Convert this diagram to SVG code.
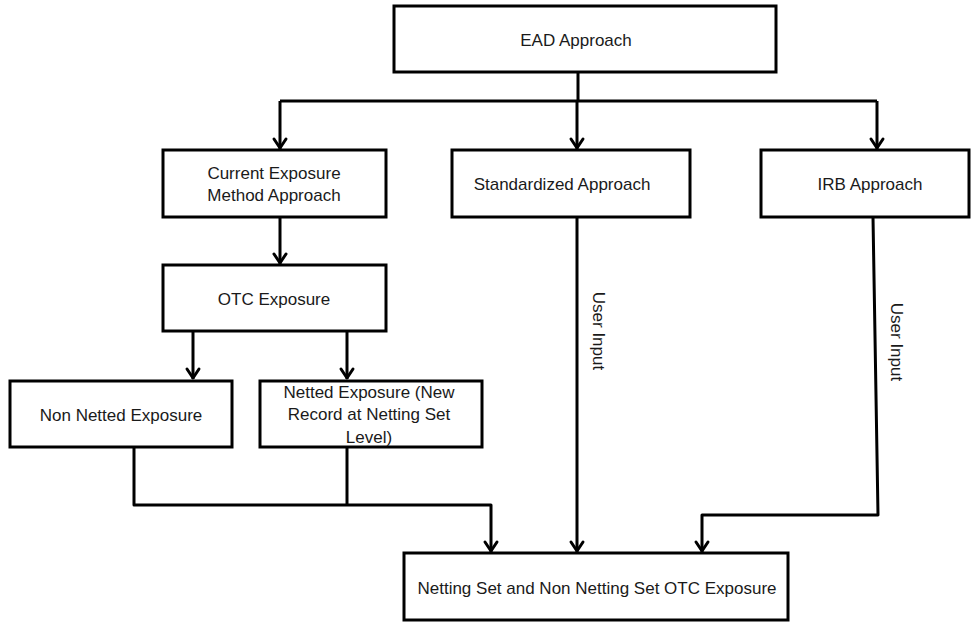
<svg xmlns="http://www.w3.org/2000/svg" width="971" height="622" viewBox="0 0 971 622">
<style>
.box{fill:#fff;stroke:#000;stroke-width:3}
.t{font-family:"Liberation Sans",Arial,sans-serif;font-size:17px;fill:#1a1a1a;text-anchor:middle;dominant-baseline:central}
.c{fill:none;stroke:#000;stroke-width:3;stroke-linejoin:round}
</style>
<defs>
<marker id="ah" viewBox="0 0 20 20" refX="18" refY="10" markerWidth="20" markerHeight="20" markerUnits="userSpaceOnUse" orient="auto">
<path d="M8 4 L17 10 L8 16" fill="none" stroke="#000" stroke-width="3" stroke-linecap="round" stroke-linejoin="round"/>
</marker>
</defs>
<rect width="971" height="622" fill="#fff"/>
<g id="connectors">
<path class="c" d="M578 72 V101"/>
<path class="c" d="M280 101 H877"/>
<path class="c" d="M280 101 V149" marker-end="url(#ah)"/>
<path class="c" d="M577 101 V149" marker-end="url(#ah)"/>
<path class="c" d="M877 101 V149" marker-end="url(#ah)"/>
<path class="c" d="M280 217 V264" marker-end="url(#ah)"/>
<path class="c" d="M193 331 V379" marker-end="url(#ah)"/>
<path class="c" d="M347 331 V379" marker-end="url(#ah)"/>
<path class="c" d="M134 447 V505 H491 V552" marker-end="url(#ah)"/>
<path class="c" d="M347 447 V505"/>
<path class="c" d="M577 217 V552" marker-end="url(#ah)"/>
<path class="c" d="M873 217 L878 515 H702 V552" marker-end="url(#ah)"/>
<text class="t" transform="translate(598 331) rotate(90)">User Input</text>
<text class="t" transform="translate(896 342) rotate(90)">User Input</text>
</g>
<g id="ead"><rect class="box" x="394" y="6" width="382" height="66"/><text class="t" x="576" y="40">EAD Approach</text></g>
<g id="cem"><rect class="box" x="163" y="150" width="223" height="67"/><text class="t" x="274" y="173">Current Exposure</text><text class="t" x="274" y="195">Method Approach</text></g>
<g id="std"><rect class="box" x="452" y="150" width="238" height="67"/><text class="t" x="562" y="184">Standardized Approach</text></g>
<g id="irb"><rect class="box" x="761" y="150" width="208" height="67"/><text class="t" x="870" y="184">IRB Approach</text></g>
<g id="otc"><rect class="box" x="163" y="265" width="223" height="66"/><text class="t" x="274" y="299">OTC Exposure</text></g>
<g id="nonnet"><rect class="box" x="10" y="381" width="222" height="66"/><text class="t" x="121" y="415">Non Netted Exposure</text></g>
<g id="net"><rect class="box" x="260" y="381" width="222" height="66"/><text class="t" x="369" y="392">Netted Exposure (New</text><text class="t" x="369" y="414">Record at Netting Set</text><text class="t" x="369" y="437">Level)</text></g>
<g id="final"><rect class="box" x="404" y="553" width="384" height="67"/><text class="t" x="597" y="588">Netting Set and Non Netting Set OTC Exposure</text></g>
</svg>
